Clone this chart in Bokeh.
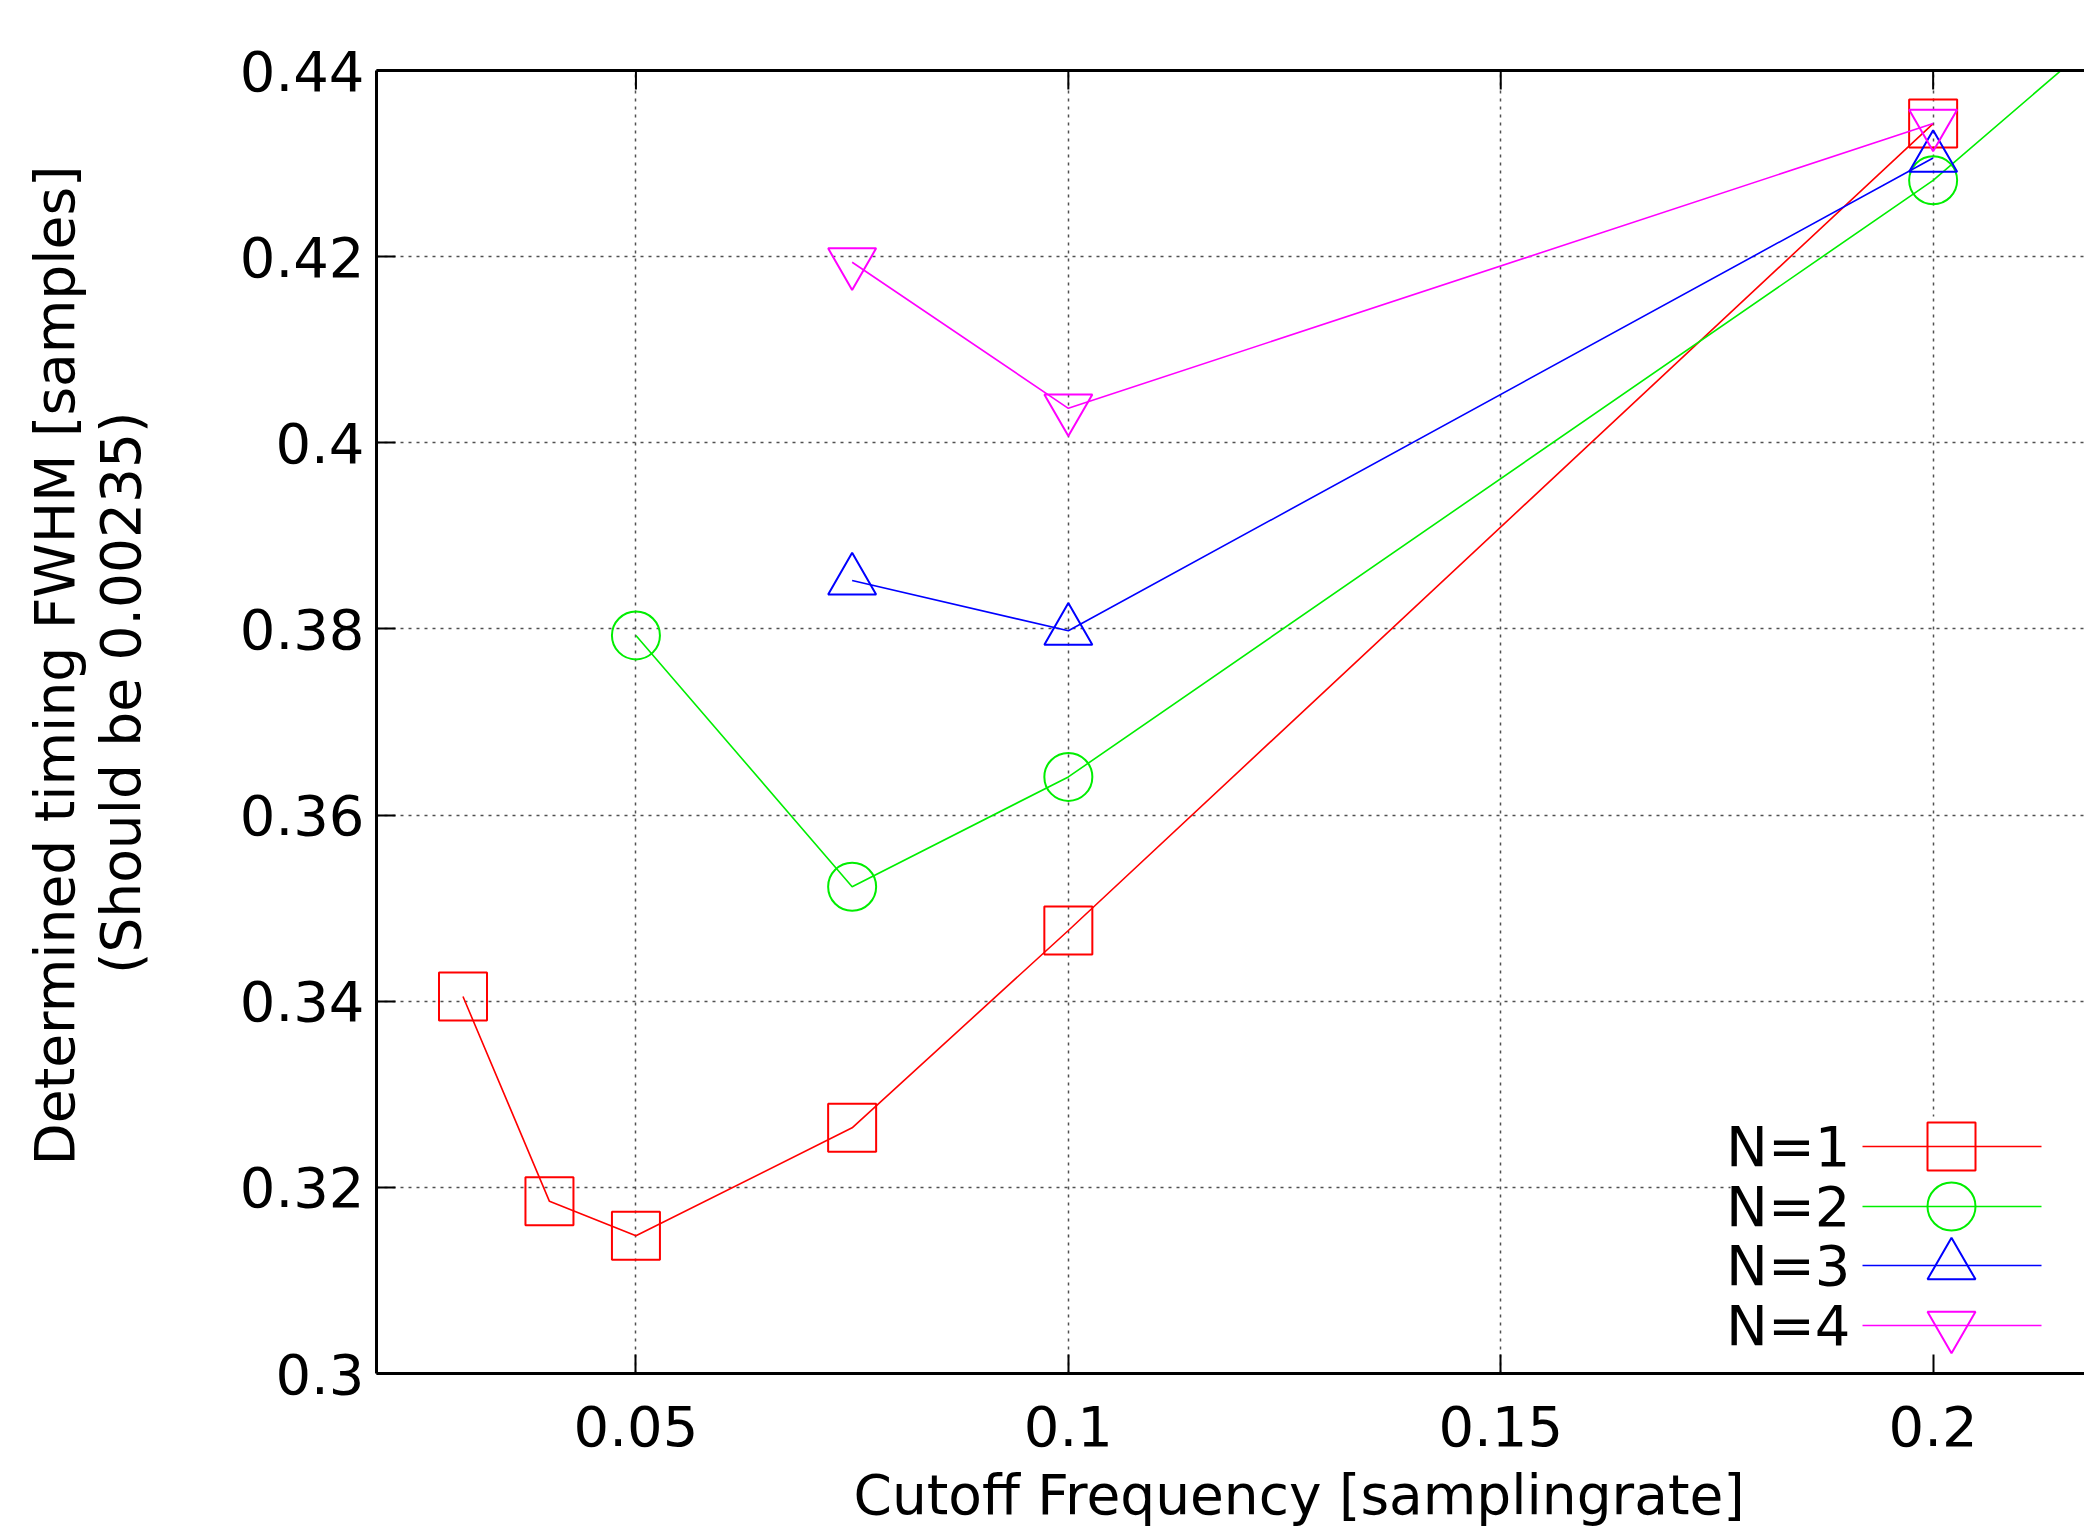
from bokeh.plotting import figure
from bokeh.models import FixedTicker, LinearAxis, Range1d, Title
from bokeh.core.properties import value
from bokeh.embed import file_html
from bokeh.resources import INLINE

# ---- data ----
cutoff_n1 = [0.03, 0.04, 0.05, 0.075, 0.1, 0.2]
fwhm_n1 = [0.3405, 0.3185, 0.3148, 0.3264, 0.3476, 0.4343]
cutoff_n2 = [0.05, 0.075, 0.1, 0.2, 0.3]
fwhm_n2 = [0.3793, 0.3523, 0.3641, 0.4282, 0.508]
cutoff_n3 = [0.075, 0.1, 0.2]
fwhm_n3 = [0.3852, 0.3798, 0.4306]
cutoff_n4 = [0.075, 0.1, 0.2]
fwhm_n4 = [0.4194, 0.4037, 0.4343]

series_labels = ["N=1", "N=2", "N=3", "N=4"]
x_ticks = [0.05, 0.1, 0.15, 0.2]
x_tick_labels = ["0.05", "0.1", "0.15", "0.2"]
y_ticks = [0.3, 0.32, 0.34, 0.36, 0.38, 0.4, 0.42, 0.44]
y_tick_labels = ["0.3", "0.32", "0.34", "0.36", "0.38", "0.4", "0.42", "0.44"]
x_title = "Cutoff Frequency [samplingrate]"
y_title_1 = "Determined timing FWHM [samples]"
y_title_2 = "(Should be 0.00235)"

# ---- layout ----
FONT = "DejaVu Sans"
FS = "56px"
TFS = "55px"
W, H = 2084, 1539
BL, BT, BB = 376, 70, 166
FRAME_W = W - BL
FRAME_H = H - BT - BB
X0 = 0.02
X1 = X0 + FRAME_W / 8648.0
Y0, Y1 = 0.3, 0.44


def fx(px):
    return X0 + (X1 - X0) * px / FRAME_W


def fy(py):  # py measured from frame top
    return Y1 - (Y1 - Y0) * py / FRAME_H


p = figure(width=W, height=H, output_backend="svg", toolbar_location=None,
           x_range=Range1d(X0, X1), y_range=Range1d(Y0, Y1),
           min_border_left=BL, min_border_top=BT, min_border_bottom=BB,
           min_border_right=0, outline_line_color=None,
           background_fill_color="white", border_fill_color="white")

for ax in (p.xaxis[0], p.yaxis[0]):
    ax.axis_line_width = 3
    ax.major_tick_in = 19
    ax.major_tick_out = 0
    ax.major_tick_line_width = 2
    ax.minor_tick_line_color = None
    ax.major_label_text_font = FONT
    ax.major_label_text_font_size = FS
    ax.major_label_text_color = "black"

p.xaxis[0].ticker = FixedTicker(ticks=x_ticks)
p.xaxis[0].major_label_overrides = dict(zip(x_ticks, x_tick_labels))
p.xaxis[0].major_label_standoff = 32
p.yaxis[0].ticker = FixedTicker(ticks=y_ticks)
p.yaxis[0].major_label_overrides = dict(zip(y_ticks, y_tick_labels))
p.yaxis[0].major_label_standoff = 12

# top border (mirrored ticks drawn as short segments)
top = LinearAxis(ticker=FixedTicker(ticks=[]), axis_line_width=3,
                 major_tick_line_color=None, minor_tick_line_color=None)
p.add_layout(top, "above")
p.segment(x0=x_ticks, x1=x_ticks, y0=[Y1] * len(x_ticks), y1=[fy(19)] * len(x_ticks),
          line_color="black", line_width=2)

for g in (p.xgrid[0], p.ygrid[0]):
    g.grid_line_color = "#505050"
    g.grid_line_width = 1.5
    g.grid_line_dash = "3 5"
p.xgrid[0].ticker = FixedTicker(ticks=x_ticks)
p.ygrid[0].ticker = FixedTicker(ticks=y_ticks)

# x-axis title
p.add_layout(Title(text=x_title, align="left", offset=477, text_font=FONT,
                   text_font_size=TFS, text_font_style="normal", text_color="black",
                   text_line_height=1.0, standoff=24), "below")

# spacer between y tick labels and the y titles: an axis whose single tick is
# drawn in white and whose labels are not drawn
spacer = LinearAxis(ticker=FixedTicker(ticks=[Y0]), axis_line_color=None,
                    major_tick_in=0, major_tick_out=84, major_tick_line_color="white",
                    minor_tick_line_color=None, major_label_standoff=0,
                    major_label_text_color=None)
p.add_layout(spacer, "left")
p.add_layout(Title(text=y_title_2, align="right", offset=341, text_font=FONT,
                   text_font_size=TFS, text_font_style="normal", text_color="black",
                   text_line_height=0.8, standoff=0), "left")
p.add_layout(Title(text=y_title_1, align="right", offset=95, text_font=FONT,
                   text_font_size=TFS, text_font_style="normal", text_color="black",
                   text_line_height=1.0, standoff=0), "left")

colors = ["#ff0000", "#00ee00", "#0000ff", "#ff00ff"]
markers = ["square", "circle", "triangle", "inverted_triangle"]
xs = [cutoff_n1, cutoff_n2, cutoff_n3, cutoff_n4]
ys = [fwhm_n1, fwhm_n2, fwhm_n3, fwhm_n4]

for x, y, c, m in zip(xs, ys, colors, markers):
    p.line(x, y, line_color=c, line_width=1.6)
    p.scatter(x, y, marker=m, size=48, fill_color=None, line_color=c, line_width=2)

# legend (drawn manually: label left of the sample, as in the original)
p.quad(left=[fx(1354)], right=[fx(FRAME_W)], top=[fy(1046)], bottom=[Y0],
       fill_color="white", line_color=None)
row_py = [1076, 1136, 1195, 1255]
for lab, c, m, py in zip(series_labels, colors, markers, row_py):
    yy = fy(py)
    p.text([fx(1474)], [yy], text=[lab], text_align="right", text_baseline="middle",
           text_font=value(FONT), text_font_size=FS, text_color="black")
    p.line([fx(1486), fx(1665)], [yy, yy], line_color=c, line_width=1.6)
    p.scatter([fx(1575)], [yy], marker=m, size=48, fill_color=None, line_color=c, line_width=2)

open("out.html", "w").write(file_html(p, INLINE))
